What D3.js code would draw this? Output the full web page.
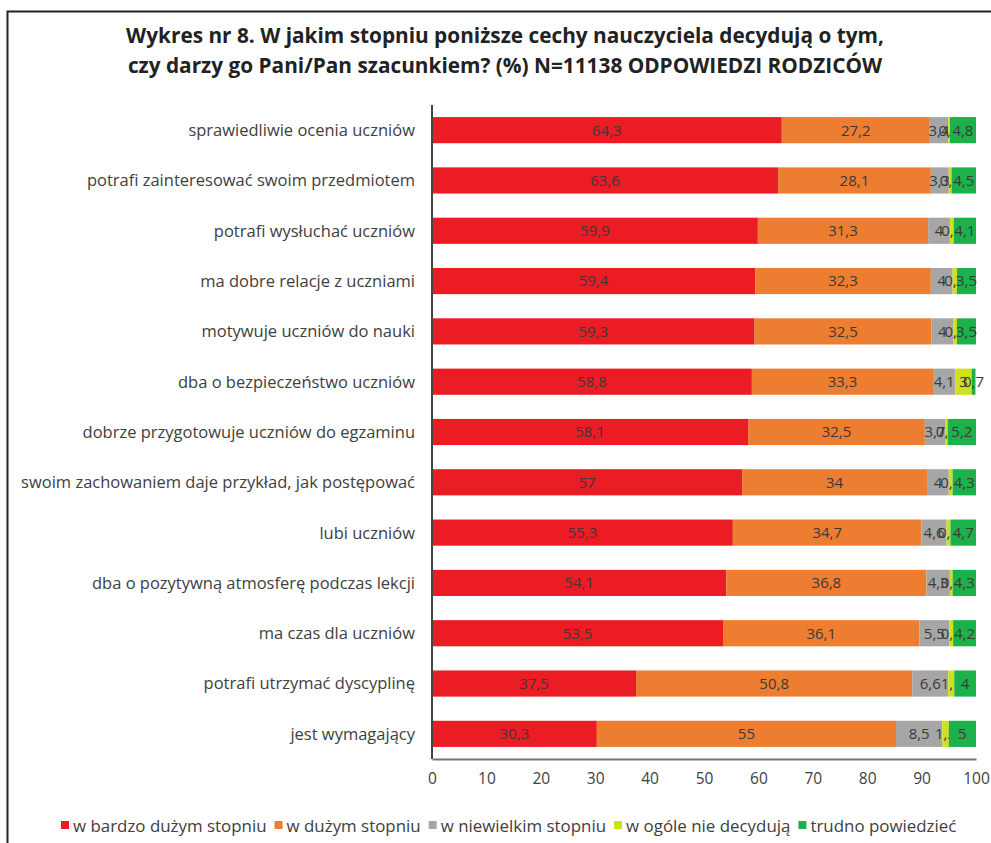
<!DOCTYPE html>
<html>
<head>
  <meta charset="utf-8">
  <title>Wykres nr 8</title>
  <script src="https://d3js.org/d3.v7.min.js"></script>
  <style>
    body {
      margin: 0;
      background: #fff;
      font-family: "Open Sans", sans-serif;
    }
    svg text {
      font-family: "Open Sans", sans-serif;
    }
  </style>
</head>
<body>
<div id="chart"></div>
<script>

// categories, top to bottom
var categories = [
  "sprawiedliwie ocenia uczniów",
  "potrafi zainteresować swoim przedmiotem",
  "potrafi wysłuchać uczniów",
  "ma dobre relacje z uczniami",
  "motywuje uczniów do nauki",
  "dba o bezpieczeństwo uczniów",
  "dobrze przygotowuje uczniów do egzaminu",
  "swoim zachowaniem daje przykład, jak postępować",
  "lubi uczniów",
  "dba o pozytywną atmosferę podczas lekcji",
  "ma czas dla uczniów",
  "potrafi utrzymać dyscyplinę",
  "jest wymagający"
];

// series values (%)
var bardzoDuzym  = [64.3, 63.6, 59.9, 59.4, 59.3, 58.8, 58.1, 57, 55.3, 54.1, 53.5, 37.5, 30.3];
var duzym        = [27.2, 28.1, 31.3, 32.3, 32.5, 33.3, 32.5, 34, 34.7, 36.8, 36.1, 50.8, 55];
var niewielkim   = [3.4, 3.3, 4.0, 4.0, 4.0, 4.1, 3.7, 4.0, 4.6, 4.3, 5.5, 6.6, 8.5];
var nieDecyduja  = [0.3, 0.5, 0.7, 0.8, 0.7, 3.0, 0.5, 0.7, 0.7, 0.5, 0.7, 1.1, 1.2];
var trudno       = [4.8, 4.5, 4.1, 3.5, 3.5, 0.7, 5.2, 4.3, 4.7, 4.3, 4.2, 4, 5];

var seriesNames = ["w bardzo dużym stopniu", "w dużym stopniu", "w niewielkim stopniu",
                   "w ogóle nie decydują", "trudno powiedzieć"];
var seriesColors = ["#ec1c24", "#ed7d31", "#a6a6a6", "#cfe01e", "#1db14b"];
var xTicks = [0, 10, 20, 30, 40, 50, 60, 70, 80, 90, 100];

var allSeries = [bardzoDuzym, duzym, niewielkim, nieDecyduja, trudno];

var W = 991, H = 843;
var margin = { top: 105, left: 432, right: 15, bottom: 84 };
var width = 976 - margin.left,
    height = 759 - margin.top;

var svg = d3.select("#chart").append("svg")
  .attr("width", W)
  .attr("height", H);

// frame
svg.append("path")
  .attr("d", "M7.5," + (H + 5) + " V11.5 H" + (W + 5))
  .attr("fill", "none")
  .attr("stroke", "#222")
  .attr("stroke-width", 2);

// title
var title = svg.append("text")
  .attr("text-anchor", "middle")
  .attr("font-weight", "bold")
  .attr("font-size", 20.8)
  .attr("fill", "#222");
title.append("tspan").attr("x", 505).attr("y", 43)
  .text("Wykres nr 8. W jakim stopniu poniższe cechy nauczyciela decydują o tym,");
title.append("tspan").attr("x", 505).attr("y", 73)
  .text("czy darzy go Pani/Pan szacunkiem? (%) N=11138 ODPOWIEDZI RODZICÓW");

var g = svg.append("g")
  .attr("transform", "translate(" + margin.left + "," + margin.top + ")");

var x = d3.scaleLinear().domain([0, 100]).range([0, width]);
var y = d3.scaleBand().domain(categories).range([0, height]).paddingInner(0.48).paddingOuter(0.24);

// stack the rows
var rows = categories.map(function (c, i) {
  var row = { cat: c };
  allSeries.forEach(function (s, k) { row["s" + k] = s[i]; });
  return row;
});
var keys = allSeries.map(function (s, k) { return "s" + k; });
var stacked = d3.stack().keys(keys)(rows);

var layers = g.selectAll(".layer")
  .data(stacked)
  .enter().append("g")
  .attr("class", "layer")
  .attr("fill", function (d, k) { return seriesColors[k]; });

layers.selectAll("rect")
  .data(function (d) { return d; })
  .enter().append("rect")
  .attr("x", function (d) { return x(d[0]); })
  .attr("y", function (d) { return y(d.data.cat); })
  .attr("width", function (d) { return x(d[1]) - x(d[0]); })
  .attr("height", y.bandwidth());

// data labels
var fmt = function (v) { return String(v).replace(".", ","); };
layers.selectAll("text")
  .data(function (d) { return d.map(function (p) { p.key = d.key; return p; }); })
  .enter().append("text")
  .attr("x", function (d) { return (x(d[0]) + x(d[1])) / 2; })
  .attr("y", function (d) { return y(d.data.cat) + y.bandwidth() / 2; })
  .attr("dy", "0.36em")
  .attr("text-anchor", "middle")
  .attr("font-size", 15)
  .attr("fill", "#3a3a3a")
  .text(function (d) { return fmt(d.data[d.key]); });

// category labels
g.selectAll(".cat")
  .data(categories)
  .enter().append("text")
  .attr("class", "cat")
  .attr("x", -17)
  .attr("y", function (d) { return y(d) + y.bandwidth() / 2; })
  .attr("dy", "0.36em")
  .attr("text-anchor", "end")
  .attr("font-size", 16.5)
  .attr("fill", "#404040")
  .text(function (d) { return d; });

// y axis line
g.append("line")
  .attr("x1", 0).attr("x2", 0)
  .attr("y1", 0).attr("y2", height)
  .attr("stroke", "#444")
  .attr("stroke-width", 2);

// x axis
var xAxis = g.append("g")
  .attr("transform", "translate(0," + height + ")")
  .call(d3.axisBottom(x).tickValues(xTicks).tickSize(0).tickPadding(14));
xAxis.select(".domain").attr("stroke", "#777").attr("stroke-width", 2);
xAxis.selectAll("text")
  .attr("font-size", 15.5)
  .attr("fill", "#404040")
  .style("font-family", "'Open Sans', sans-serif");

// legend
var legend = svg.append("g").attr("transform", "translate(61,832)");
var lx = 0;
seriesNames.forEach(function (name, k) {
  var item = legend.append("g").attr("transform", "translate(" + lx + ",0)");
  item.append("rect")
    .attr("x", 0).attr("y", -11)
    .attr("width", 8).attr("height", 8)
    .attr("fill", seriesColors[k]);
  var t = item.append("text")
    .attr("x", 12).attr("y", 0)
    .attr("font-size", 16.9)
    .attr("fill", "#404040")
    .text(name);
  lx += 12 + t.node().getComputedTextLength() + 8;
});

</script>
</body>
</html>
